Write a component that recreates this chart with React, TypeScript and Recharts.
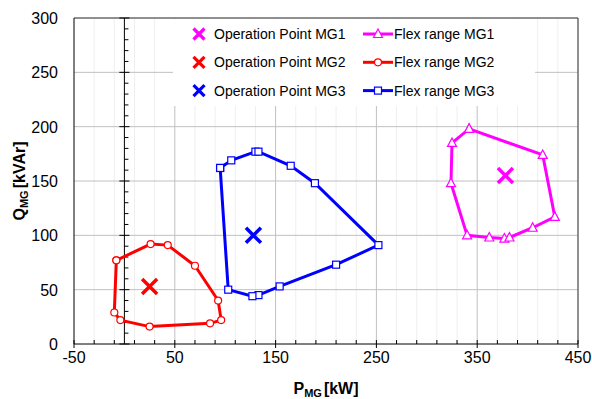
import { ScatterChart, Scatter, XAxis, YAxis, CartesianGrid, ReferenceLine } from 'recharts';

const FONT = '"Liberation Sans", Arial, sans-serif';

// axis ticks
const xMajorTicks = [-50, 50, 150, 250, 350, 450];
const xMinorTicks = [-30, -10, 10, 30, 70, 90, 110, 130, 170, 190, 210, 230, 270, 290, 310, 330, 370, 390, 410, 430];
const xGridLines = [50, 150, 250, 350, 450];
const yTicks = [0, 50, 100, 150, 200, 250, 300];
const yGridLines = [50, 100, 150, 200, 250, 300];
const yMinorTicks = [10, 20, 30, 40, 60, 70, 80, 90, 110, 120, 130, 140, 160, 170, 180, 190, 210, 220, 230, 240, 260, 270, 280, 290];

// flex range polygons (first point repeated to close)
const mg1FlexP = [342, 325, 324, 340, 362, 377, 382, 405, 427, 415, 342];
const mg1FlexQ = [198, 185, 148, 100, 98, 97, 98, 107, 117, 174, 198];
const mg2FlexP = [-8, 26, 43, 70, 93, 96, 85, 25, -4, -10, -8];
const mg2FlexQ = [77, 92, 91, 72, 40, 22, 19, 16, 22, 29, 77];
const mg3FlexP = [95, 106, 130, 133, 165, 189, 252, 210, 154, 133, 127, 103, 95];
const mg3FlexQ = [162, 169, 177, 177, 164, 148, 91, 73, 53, 45, 44, 50, 162];

// operation points
const opP = [378, 25, 128];
const opQ = [155, 53, 100];

const MAGENTA = '#ff00ff';
const RED = '#ff0000';
const BLUE = '#0000ff';

const zip = (p: number[], q: number[]) => p.map((v, i) => ({ p: v, q: q[i] }));

const allXTicks = [...xMajorTicks, ...xMinorTicks].sort((a, b) => a - b);

const XTick = ({ x, y, payload }: any) => {
  const major = xMajorTicks.includes(payload.value);
  return (
    <g>
      <line x1={x} x2={x} y1={y - 4} y2={major ? y + 4 : y} stroke="#000" />
      {major && (
        <text x={x} y={y + 19} textAnchor="middle" fontSize={16} fontFamily={FONT} fill="#000">
          {payload.value}
        </text>
      )}
    </g>
  );
};

const YTick = ({ x, y, payload }: any) => (
  <text x={x - 16} y={y + 6} textAnchor="end" fontSize={16} fontFamily={FONT} fill="#000">
    {payload.value}
  </text>
);

const Cross = ({ cx, cy, color, s = 7, w = 3.5 }: any) => (
  <g>
    <line x1={cx - s} y1={cy - s} x2={cx + s} y2={cy + s} stroke={color} strokeWidth={w} />
    <line x1={cx - s} y1={cy + s} x2={cx + s} y2={cy - s} stroke={color} strokeWidth={w} />
  </g>
);

const Triangle = ({ cx, cy }: any) => (
  <polygon
    points={`${cx},${cy - 5} ${cx - 4.5},${cy + 3.5} ${cx + 4.5},${cy + 3.5}`}
    fill="#fff"
    stroke={MAGENTA}
    strokeWidth={1.2}
  />
);

const Circle = ({ cx, cy }: any) => <circle cx={cx} cy={cy} r={3.5} fill="#fff" stroke={RED} strokeWidth={1.2} />;

const Square = ({ cx, cy }: any) => (
  <rect x={cx - 3.5} y={cy - 3.5} width={7} height={7} fill="#fff" stroke={BLUE} strokeWidth={1.2} />
);

const legendRows = [
  { op: 'Operation Point MG1', flex: 'Flex range MG1', color: MAGENTA, Marker: Triangle },
  { op: 'Operation Point MG2', flex: 'Flex range MG2', color: RED, Marker: Circle },
  { op: 'Operation Point MG3', flex: 'Flex range MG3', color: BLUE, Marker: Square },
];

export default function App() {
  return (
    <div style={{ position: 'absolute', left: 0, top: 0, width: 592, height: 399, background: '#fff' }}>
      <ScatterChart width={592} height={399} margin={{ top: 18, right: 14, bottom: 0, left: 0 }}>
        <CartesianGrid horizontal={false} verticalValues={xMinorTicks} stroke="#efefef" />
        <CartesianGrid verticalValues={xGridLines} horizontalValues={yGridLines} stroke="#c0c0c0" />
        <XAxis
          type="number"
          dataKey="p"
          domain={[-50, 450]}
          ticks={allXTicks}
          interval={0}
          height={55}
          tickSize={0}
          tickMargin={0}
          tickLine={false}
          axisLine={{ stroke: '#000' }}
          tick={<XTick />}
        />
        <YAxis
          type="number"
          dataKey="q"
          domain={[0, 300]}
          ticks={yTicks}
          interval={0}
          width={74}
          tickSize={0}
          tickMargin={0}
          tickLine={false}
          axisLine={{ stroke: '#000' }}
          tick={<YTick />}
        />
        <ReferenceLine y={300} stroke="#404040" />
        <ReferenceLine x={450} stroke="#404040" />
        <ReferenceLine x={0} stroke="#000" />
        {yMinorTicks.map((v) => (
          <ReferenceLine key={'m' + v} segment={[{ x: 0, y: v }, { x: 4, y: v }]} stroke="#000" />
        ))}
        {yTicks.map((v) => (
          <ReferenceLine key={'M' + v} segment={[{ x: -5, y: v }, { x: 5, y: v }]} stroke="#000" />
        ))}
        <Scatter
          name="Flex range MG1"
          data={zip(mg1FlexP, mg1FlexQ)}
          line={{ stroke: MAGENTA, strokeWidth: 3 }}
          lineType="joint"
          shape={<Triangle />}
          isAnimationActive={false}
        />
        <Scatter
          name="Flex range MG2"
          data={zip(mg2FlexP, mg2FlexQ)}
          line={{ stroke: RED, strokeWidth: 3 }}
          lineType="joint"
          shape={<Circle />}
          isAnimationActive={false}
        />
        <Scatter
          name="Flex range MG3"
          data={zip(mg3FlexP, mg3FlexQ)}
          line={{ stroke: BLUE, strokeWidth: 3 }}
          lineType="joint"
          shape={<Square />}
          isAnimationActive={false}
        />
        <Scatter
          name="Operation Point MG1"
          data={[{ p: opP[0], q: opQ[0] }]}
          shape={<Cross color={MAGENTA} s={7.5} />}
          isAnimationActive={false}
        />
        <Scatter
          name="Operation Point MG2"
          data={[{ p: opP[1], q: opQ[1] }]}
          shape={<Cross color={RED} s={7.5} />}
          isAnimationActive={false}
        />
        <Scatter
          name="Operation Point MG3"
          data={[{ p: opP[2], q: opQ[2] }]}
          shape={<Cross color={BLUE} s={7.5} />}
          isAnimationActive={false}
        />
      </ScatterChart>

      {/* legend and axis titles */}
      <svg width={592} height={399} style={{ position: 'absolute', left: 0, top: 0, pointerEvents: 'none' }}>
        <rect x={173} y={19} width={362} height={87} fill="#fff" />
        {legendRows.map((r, i) => {
          const cy = 34 + i * 28.3;
          const M = r.Marker;
          return (
            <g key={r.op}>
              <Cross cx={199} cy={cy} color={r.color} s={5.5} w={3.2} />
              <text x={214} y={cy + 5} fontSize={14} fontFamily={FONT} fill="#000">
                {r.op}
              </text>
              <line x1={363} x2={393} y1={cy} y2={cy} stroke={r.color} strokeWidth={3} />
              <M cx={378} cy={cy} />
              <text x={394} y={cy + 5} fontSize={14} fontFamily={FONT} fill="#000">
                {r.flex}
              </text>
            </g>
          );
        })}
        <text x={326} y={394} textAnchor="middle" fontSize={16} fontWeight="bold" fontFamily={FONT} fill="#000">
          P
          <tspan fontSize={11} dy={3}>MG</tspan>
          <tspan fontSize={16} dy={-3} dx={2}>[kW]</tspan>
        </text>
        <text
          x={25}
          y={181}
          transform="rotate(-90 25 181)"
          textAnchor="middle"
          fontSize={16}
          fontWeight="bold"
          fontFamily={FONT}
          fill="#000"
        >
          Q
          <tspan fontSize={11} dy={3}>MG</tspan>
          <tspan fontSize={16} dy={-3} dx={2}>[kVAr]</tspan>
        </text>
      </svg>
    </div>
  );
}
